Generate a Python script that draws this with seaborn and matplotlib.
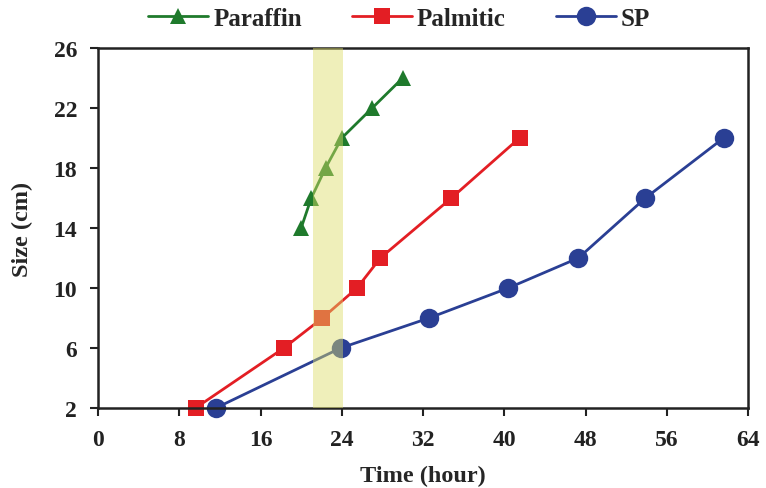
import pandas as pd
import matplotlib
matplotlib.use("Agg")
import matplotlib.pyplot as plt
import seaborn as sns

# values
paraffin_time = [20, 21, 22.4, 24, 27, 30]
paraffin_size = [14, 16, 18, 20, 22, 24]
palmitic_time = [9.6, 18.3, 22.1, 25.5, 27.8, 34.8, 41.5]
palmitic_size = [2, 6, 8, 10, 12, 16, 20]
sp_time = [11.6, 23.9, 32.6, 40.4, 47.3, 53.9, 61.6]
sp_size = [2, 6, 8, 10, 12, 16, 20]
band = [21.2, 24.1]
x_ticks = [0, 8, 16, 24, 32, 40, 48, 56, 64]
y_ticks = [2, 6, 10, 14, 18, 22, 26]

df = pd.concat([
    pd.DataFrame({'time': paraffin_time, 'size': paraffin_size, 'series': 'Paraffin'}),
    pd.DataFrame({'time': palmitic_time, 'size': palmitic_size, 'series': 'Palmitic'}),
    pd.DataFrame({'time': sp_time, 'size': sp_size, 'series': 'SP'}),
])

sns.set_style("white")
plt.rcParams['font.family'] = ['Liberation Serif', 'DejaVu Serif']
plt.rcParams['font.weight'] = 'bold'

colors = {'Paraffin': '#1f7a2c', 'Palmitic': '#e31e24', 'SP': '#2a3f94'}
markers = {'Paraffin': '^', 'Palmitic': 's', 'SP': 'o'}
sizes = {'Paraffin': 11.5, 'Palmitic': 12, 'SP': 14}

fig = plt.figure(figsize=(7.66, 4.89), dpi=100)
ax = fig.add_axes([0.128, 0.1636, 0.8485, 0.7362])

for name in ['Paraffin', 'Palmitic', 'SP']:
    sns.lineplot(data=df[df.series == name], x='time', y='size', ax=ax,
                 color=colors[name], marker=markers[name], markersize=sizes[name],
                 markeredgewidth=0, linewidth=2, sort=False, label=name,
                 clip_on=False, zorder=2)

# highlighted time window, drawn over the lines like in the original
ax.axvspan(band[0], band[1], color='#dddd66', alpha=0.45, lw=0, zorder=3)

ax.set_xlim(0, 64)
ax.set_ylim(2, 26)
ax.set_xticks(x_ticks)
ax.set_yticks(y_ticks)
ax.tick_params(bottom=True, left=True, direction='out', length=6, width=1.5,
               labelsize=17, colors='#222222')
ax.tick_params(axis='x', pad=9)
ax.tick_params(axis='y', pad=9)
for lab in ax.get_xticklabels() + ax.get_yticklabels():
    lab.set_fontweight('bold')
for sp in ax.spines.values():
    sp.set_visible(True)
    sp.set_color('#222222')
    sp.set_linewidth(1.8)

ax.set_xlabel('Time (hour)', fontsize=17.5, fontweight='bold', labelpad=11)
ax.set_ylabel('Size (cm)', fontsize=17.5, fontweight='bold', labelpad=15)

ax.legend(loc='center', bbox_to_anchor=(0.521, 0.96), bbox_transform=fig.transFigure,
          ncol=3, frameon=False, handlelength=2.4, columnspacing=2.0,
          handletextpad=0.2, borderaxespad=0, borderpad=0,
          prop={'weight': 'bold', 'size': 18})

fig.savefig('out.png', dpi=100)
